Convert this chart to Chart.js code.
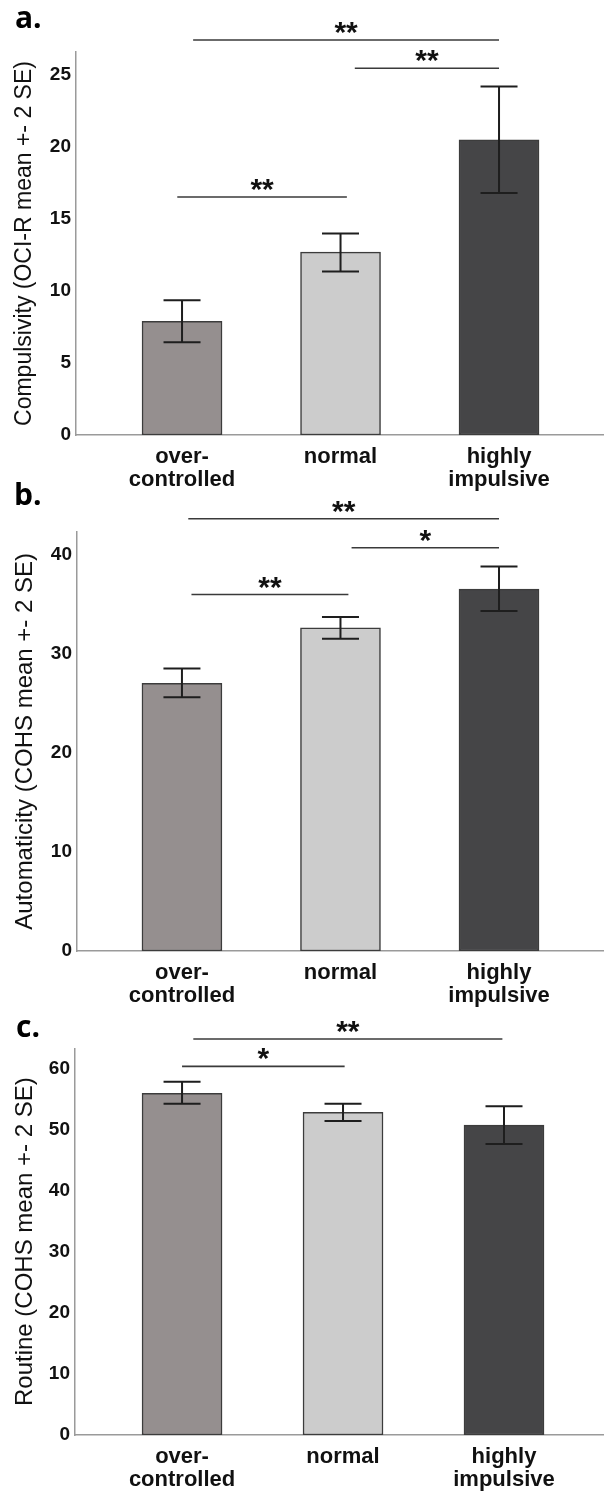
<!DOCTYPE html>
<html>
<head>
<meta charset="utf-8">
<script src="https://cdn.jsdelivr.net/npm/chart.js@4.4.1/dist/chart.umd.min.js"></script>
<style>
  html, body { margin: 0; padding: 0; background: #ffffff; }
  body { position: relative; width: 606px; height: 1491px; overflow: hidden; }
  canvas { position: absolute; left: 0; }
</style>
</head>
<body>
<canvas id="chartA" width="606" height="500" style="top:0px"></canvas>
<canvas id="chartB" width="606" height="540" style="top:475px"></canvas>
<canvas id="chartC" width="606" height="501" style="top:990px"></canvas>

<script>
// Groups (x axis)
const categories = [['over-', 'controlled'], 'normal', ['highly', 'impulsive']];
const barColors = ['#958f8f', '#cccccc', '#454547'];

// a. Compulsivity (OCI-R)
const compulsivityMean = [7.9, 12.7, 20.5];
const compulsivityLow = [6.45, 11.35, 16.8];
const compulsivityHigh = [9.35, 14.0, 24.2];
// brackets: [from, to, level, label]
const compulsivitySig = [[0.07, 2.0, 27.43, '**'], [1.09, 2.0, 25.47, '**'], [-0.03, 1.04, 16.53, '**']];

// b. Automaticity (COHS)
const automaticityMean = [27.0, 32.6, 36.5];
const automaticityLow = [25.6, 31.5, 34.3];
const automaticityHigh = [28.5, 33.7, 38.8];
const automaticitySig = [[0.04, 2.0, 43.6, '**'], [1.07, 2.0, 40.68, '*'], [0.06, 1.05, 35.96, '**']];

// c. Routine (COHS)
const routineMean = [56.0, 52.9, 50.8];
const routineLow = [54.3, 51.5, 47.7];
const routineHigh = [57.9, 54.3, 53.9];
const routineSig = [[0.07, 1.99, 64.92, '**'], [0.0, 1.01, 60.43, '*']];

/**
 * Error bars + significance brackets + panel letter
 */
const annotationPlugin = {
    id: 'annotations',
    afterDraw(chart, args, opts) {
        const ctx = chart.ctx;
        const xs = chart.scales.x;
        const ys = chart.scales.y;

        // error bars
        ctx.save();
        ctx.strokeStyle = '#1e1e1e';
        ctx.lineWidth = 2;
        opts.low.forEach((lo, i) => {
            const x = xs.getPixelForValue(i);
            const y1 = ys.getPixelForValue(lo);
            const y2 = ys.getPixelForValue(opts.high[i]);
            ctx.beginPath();
            ctx.moveTo(x, y1); ctx.lineTo(x, y2);
            ctx.moveTo(x - 18.5, y1); ctx.lineTo(x + 18.5, y1);
            ctx.moveTo(x - 18.5, y2); ctx.lineTo(x + 18.5, y2);
            ctx.stroke();
        });

        // significance brackets
        ctx.strokeStyle = '#3a3a3a';
        ctx.lineWidth = 1.6;
        ctx.fillStyle = '#111';
        ctx.font = 'bold 30px "Liberation Sans"';
        ctx.textAlign = 'center';
        ctx.textBaseline = 'alphabetic';
        opts.sig.forEach(([from, to, level, label]) => {
            const x1 = xs.getPixelForValue(from);
            const x2 = xs.getPixelForValue(to);
            const y = ys.getPixelForValue(level);
            ctx.beginPath();
            ctx.moveTo(x1, y); ctx.lineTo(x2, y);
            ctx.stroke();
            ctx.fillText(label, (x1 + x2) / 2, y + 2);
        });

        // panel letter
        ctx.font = 'bold 30px "Open Sans"';
        ctx.textAlign = 'left';
        ctx.fillStyle = '#000';
        ctx.fillText(opts.letter, opts.letterX, opts.letterY);
        ctx.restore();
    }
};

function buildPanel(id, cfg) {
    const canvas = document.getElementById(id);
    const H = canvas.height;
    return new Chart(canvas.getContext('2d'), {
        type: 'bar',
        data: {
            datasets: [{
                data: cfg.mean.map((v, i) => ({ x: i, y: v })),
                backgroundColor: barColors,
                borderColor: '#3c3c3c',
                borderWidth: 1.5,
                borderSkipped: false,
                barThickness: 80
            }]
        },
        options: {
            responsive: false,
            devicePixelRatio: 1,
            animation: false,
            layout: { padding: { top: cfg.top, right: 3, left: 0, bottom: 0 } },
            plugins: {
                legend: { display: false },
                tooltip: { enabled: false },
                annotations: {
                    low: cfg.low, high: cfg.high, sig: cfg.sig,
                    letter: cfg.letter, letterX: cfg.letterX, letterY: cfg.letterY
                }
            },
            scales: {
                x: {
                    type: 'linear',
                    offset: false,
                    min: cfg.xMin,
                    max: cfg.xMax,
                    afterFit: (s) => { s.height = H - cfg.bottom; },
                    afterBuildTicks: (s) => { s.ticks = categories.map((c, i) => ({ value: i })); },
                    grid: { display: false, drawTicks: false },
                    border: { display: true, color: '#9a9a9a', width: 1.5 },
                    ticks: {
                        callback: (v) => categories[v],
                        autoSkip: false,
                        maxRotation: 0,
                        padding: 11,
                        color: '#111',
                        font: { family: '"Liberation Sans", Arial', size: 22, weight: 'bold', lineHeight: 1.02 }
                    }
                },
                y: {
                    min: 0,
                    max: cfg.yMax,
                    afterFit: (s) => { s.width = cfg.left; },
                    grid: { display: false, drawTicks: false },
                    border: { display: true, color: '#9a9a9a', width: 1.5 },
                    ticks: {
                        stepSize: cfg.step,
                        includeBounds: false,
                        padding: 5,
                        color: '#111',
                        font: { family: '"Liberation Sans", Arial', size: 19, weight: 'bold' }
                    },
                    title: {
                        display: true,
                        text: cfg.title,
                        color: '#111',
                        padding: { top: 11, bottom: 0 },
                        font: { family: '"Liberation Sans", Arial', size: cfg.titleSize, weight: 'normal' }
                    }
                }
            }
        },
        plugins: [annotationPlugin]
    });
}

buildPanel('chartA', {
    mean: compulsivityMean, low: compulsivityLow, high: compulsivityHigh, sig: compulsivitySig,
    title: 'Compulsivity (OCI-R mean +- 2 SE)', titleSize: 23,
    yMax: 26.6, step: 5, top: 52, bottom: 435, left: 76,
    xMin: -0.669, xMax: 2.656,
    letter: 'a.', letterX: 15, letterY: 28
});

buildPanel('chartB', {
    mean: automaticityMean, low: automaticityLow, high: automaticityHigh, sig: automaticitySig,
    title: 'Automaticity (COHS mean +- 2 SE)', titleSize: 24,
    yMax: 42.3, step: 10, top: 56.7, bottom: 476, left: 77,
    xMin: -0.662, xMax: 2.656,
    letter: 'b.', letterX: 14, letterY: 30
});

buildPanel('chartC', {
    mean: routineMean, low: routineLow, high: routineHigh, sig: routineSig,
    title: 'Routine (COHS mean +- 2 SE)', titleSize: 24,
    yMax: 63.4, step: 10, top: 58.3, bottom: 445, left: 75,
    xMin: -0.665, xMax: 2.615,
    letter: 'c.', letterX: 16, letterY: 47
});
</script>
</body>
</html>
